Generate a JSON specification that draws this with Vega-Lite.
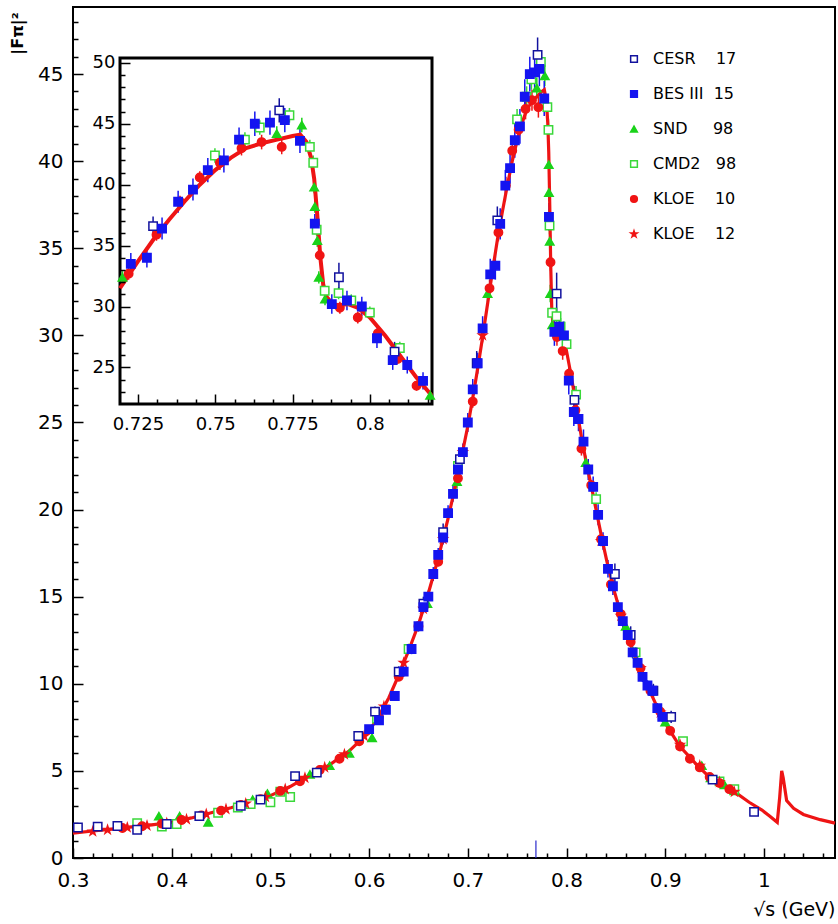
{
"$schema": "https://vega.github.io/schema/vega-lite/v6.json",
"width": 762, "height": 851,
"autosize": {"type": "none"},
"padding": {"left": 73, "top": 7, "right": 3, "bottom": 66},
"background": "white",
"config": {
 "view": {"stroke": "black", "strokeWidth": 2},
 "axis": {"labelFont": "DejaVu Sans", "titleFont": "DejaVu Sans", "labelColor": "black", "titleColor": "black", "tickColor": "black", "tickWidth": 1.5, "grid": false, "domain": false, "labelFlush": false, "labelOverlap": false},
 "legend": {"orient": "none", "legendX": 553, "legendY": 44, "direction": "vertical", "padding": 0, "labelFont": "DejaVu Sans", "labelFontSize": 16, "labelColor": "black", "symbolSize": 45, "symbolStrokeWidth": 1.5, "rowPadding": 19, "labelOffset": 11}
},
"datasets": {
 "pts": [
  {"s":"SND","x":0.387,"y":2.40,"e":0.15},{"s":"SND","x":0.408,"y":2.40,"e":0.15},{"s":"SND","x":0.437,"y":2.05,"e":0.15},{"s":"SND","x":0.482,"y":3.35,"e":0.15},{"s":"SND","x":0.497,"y":3.70,"e":0.15},{"s":"SND","x":0.540,"y":4.80,"e":0.15},{"s":"SND","x":0.560,"y":5.30,"e":0.15},{"s":"SND","x":0.580,"y":6.00,"e":0.2},{"s":"SND","x":0.603,"y":6.90,"e":0.2},{"s":"SND","x":0.659,"y":14.6,"e":0.3},{"s":"SND","x":0.689,"y":21.6,"e":0.4},{"s":"SND","x":0.7200,"y":32.4,"e":0.5},{"s":"SND","x":0.7699,"y":44.2,"e":0.6},{"s":"SND","x":0.7780,"y":44.9,"e":0.6},{"s":"SND","x":0.7820,"y":39.8,"e":0.5},{"s":"SND","x":0.7822,"y":38.2,"e":0.5},{"s":"SND","x":0.7830,"y":35.4,"e":0.5},{"s":"SND","x":0.7835,"y":32.4,"e":0.5},{"s":"SND","x":0.7855,"y":30.6,"e":0.5},{"s":"SND","x":0.8195,"y":22.7,"e":0.4},{"s":"SND","x":0.860,"y":13.3,"e":0.3},{"s":"SND","x":0.900,"y":7.8,"e":0.2},{"s":"SND","x":0.937,"y":5.3,"e":0.15},{"s":"SND","x":0.946,"y":4.6,"e":0.15},{"s":"SND","x":0.960,"y":4.2,"e":0.15},{"s":"SND","x":0.970,"y":3.85,"e":0.15},
  {"s":"CMD2","x":0.365,"y":2.00,"e":0.12},{"s":"CMD2","x":0.390,"y":1.80,"e":0.12},{"s":"CMD2","x":0.405,"y":1.95,"e":0.12},{"s":"CMD2","x":0.447,"y":2.60,"e":0.12},{"s":"CMD2","x":0.467,"y":2.90,"e":0.12},{"s":"CMD2","x":0.480,"y":3.10,"e":0.12},{"s":"CMD2","x":0.500,"y":3.20,"e":0.12},{"s":"CMD2","x":0.510,"y":3.80,"e":0.15},{"s":"CMD2","x":0.520,"y":3.50,"e":0.15},{"s":"CMD2","x":0.608,"y":8.00,"e":0.2},{"s":"CMD2","x":0.640,"y":12.0,"e":0.3},{"s":"CMD2","x":0.690,"y":22.5,"e":0.4},{"s":"CMD2","x":0.7499,"y":42.4,"e":0.6},{"s":"CMD2","x":0.7596,"y":43.7,"e":0.6},{"s":"CMD2","x":0.7644,"y":44.7,"e":0.6},{"s":"CMD2","x":0.7740,"y":45.7,"e":0.6},{"s":"CMD2","x":0.7806,"y":43.1,"e":0.6},{"s":"CMD2","x":0.7817,"y":41.8,"e":0.6},{"s":"CMD2","x":0.7828,"y":36.3,"e":0.5},{"s":"CMD2","x":0.7854,"y":31.3,"e":0.5},{"s":"CMD2","x":0.7899,"y":31.1,"e":0.5},{"s":"CMD2","x":0.7940,"y":30.5,"e":0.5},{"s":"CMD2","x":0.8000,"y":29.5,"e":0.5},{"s":"CMD2","x":0.8097,"y":26.6,"e":0.5},{"s":"CMD2","x":0.830,"y":20.6,"e":0.4},{"s":"CMD2","x":0.870,"y":11.8,"e":0.3},{"s":"CMD2","x":0.918,"y":6.7,"e":0.2},{"s":"CMD2","x":0.955,"y":4.4,"e":0.15},{"s":"CMD2","x":0.970,"y":3.95,"e":0.15},
  {"s":"KLOE 12","x":0.320,"y":1.52,"e":0.05},{"s":"KLOE 12","x":0.335,"y":1.62,"e":0.05},{"s":"KLOE 12","x":0.355,"y":1.75,"e":0.05},{"s":"KLOE 12","x":0.375,"y":1.86,"e":0.05},{"s":"KLOE 12","x":0.395,"y":2.00,"e":0.05},{"s":"KLOE 12","x":0.415,"y":2.22,"e":0.05},{"s":"KLOE 12","x":0.435,"y":2.52,"e":0.05},{"s":"KLOE 12","x":0.455,"y":2.80,"e":0.05},{"s":"KLOE 12","x":0.475,"y":3.12,"e":0.06},{"s":"KLOE 12","x":0.495,"y":3.50,"e":0.06},{"s":"KLOE 12","x":0.515,"y":3.95,"e":0.06},{"s":"KLOE 12","x":0.535,"y":4.60,"e":0.07},{"s":"KLOE 12","x":0.555,"y":5.20,"e":0.08},{"s":"KLOE 12","x":0.575,"y":5.95,"e":0.08},{"s":"KLOE 12","x":0.595,"y":7.00,"e":0.1},{"s":"KLOE 12","x":0.615,"y":8.70,"e":0.12},{"s":"KLOE 12","x":0.635,"y":11.2,"e":0.15},{"s":"KLOE 12","x":0.655,"y":14.3,"e":0.2},{"s":"KLOE 12","x":0.675,"y":18.3,"e":0.25},{"s":"KLOE 12","x":0.695,"y":23.3,"e":0.3},{"s":"KLOE 12","x":0.715,"y":30.0,"e":0.4},{"s":"KLOE 12","x":0.835,"y":18.2,"e":0.3},{"s":"KLOE 12","x":0.855,"y":13.9,"e":0.2},{"s":"KLOE 12","x":0.875,"y":10.9,"e":0.15},{"s":"KLOE 12","x":0.895,"y":8.35,"e":0.12},{"s":"KLOE 12","x":0.915,"y":6.5,"e":0.1},{"s":"KLOE 12","x":0.935,"y":5.3,"e":0.08},{"s":"KLOE 12","x":0.955,"y":4.35,"e":0.08},{"s":"KLOE 12","x":0.970,"y":3.8,"e":0.08},
  {"s":"KLOE 10","x":0.350,"y":1.72,"e":0.05},{"s":"KLOE 10","x":0.370,"y":1.82,"e":0.05},{"s":"KLOE 10","x":0.390,"y":1.97,"e":0.05},{"s":"KLOE 10","x":0.410,"y":2.18,"e":0.05},{"s":"KLOE 10","x":0.430,"y":2.45,"e":0.05},{"s":"KLOE 10","x":0.450,"y":2.72,"e":0.05},{"s":"KLOE 10","x":0.470,"y":3.05,"e":0.06},{"s":"KLOE 10","x":0.490,"y":3.38,"e":0.06},{"s":"KLOE 10","x":0.510,"y":3.85,"e":0.06},{"s":"KLOE 10","x":0.530,"y":4.40,"e":0.07},{"s":"KLOE 10","x":0.550,"y":5.05,"e":0.08},{"s":"KLOE 10","x":0.570,"y":5.70,"e":0.08},{"s":"KLOE 10","x":0.590,"y":6.70,"e":0.1},{"s":"KLOE 10","x":0.610,"y":8.10,"e":0.1},{"s":"KLOE 10","x":0.630,"y":10.4,"e":0.15},{"s":"KLOE 10","x":0.650,"y":13.3,"e":0.2},{"s":"KLOE 10","x":0.670,"y":17.0,"e":0.25},{"s":"KLOE 10","x":0.690,"y":21.8,"e":0.3},{"s":"KLOE 10","x":0.705,"y":26.2,"e":0.35},{"s":"KLOE 10","x":0.7220,"y":32.7,"e":0.5},{"s":"KLOE 10","x":0.7310,"y":35.9,"e":0.5},{"s":"KLOE 10","x":0.7386,"y":38.6,"e":0.5},{"s":"KLOE 10","x":0.7450,"y":40.6,"e":0.5},{"s":"KLOE 10","x":0.7515,"y":41.8,"e":0.6},{"s":"KLOE 10","x":0.7585,"y":43.0,"e":0.6},{"s":"KLOE 10","x":0.7650,"y":43.5,"e":0.6},{"s":"KLOE 10","x":0.7715,"y":43.1,"e":0.6},{"s":"KLOE 10","x":0.7838,"y":34.2,"e":0.5},{"s":"KLOE 10","x":0.7903,"y":29.9,"e":0.5},{"s":"KLOE 10","x":0.7961,"y":29.1,"e":0.5},{"s":"KLOE 10","x":0.8026,"y":27.8,"e":0.5},{"s":"KLOE 10","x":0.8090,"y":25.7,"e":0.4},{"s":"KLOE 10","x":0.8151,"y":23.5,"e":0.4},{"s":"KLOE 10","x":0.825,"y":21.4,"e":0.3},{"s":"KLOE 10","x":0.835,"y":18.3,"e":0.3},{"s":"KLOE 10","x":0.845,"y":15.7,"e":0.25},{"s":"KLOE 10","x":0.855,"y":14.0,"e":0.2},{"s":"KLOE 10","x":0.865,"y":12.4,"e":0.2},{"s":"KLOE 10","x":0.875,"y":10.9,"e":0.15},{"s":"KLOE 10","x":0.885,"y":9.6,"e":0.15},{"s":"KLOE 10","x":0.895,"y":8.4,"e":0.12},{"s":"KLOE 10","x":0.905,"y":7.3,"e":0.1},{"s":"KLOE 10","x":0.915,"y":6.4,"e":0.1},{"s":"KLOE 10","x":0.925,"y":5.7,"e":0.1},{"s":"KLOE 10","x":0.935,"y":5.2,"e":0.08},{"s":"KLOE 10","x":0.945,"y":4.65,"e":0.08},{"s":"KLOE 10","x":0.955,"y":4.3,"e":0.08},{"s":"KLOE 10","x":0.965,"y":3.95,"e":0.08},
  {"s":"CESR","x":0.305,"y":1.75,"e":0.12},{"s":"CESR","x":0.325,"y":1.80,"e":0.12},{"s":"CESR","x":0.345,"y":1.84,"e":0.12},{"s":"CESR","x":0.365,"y":1.62,"e":0.12},{"s":"CESR","x":0.395,"y":1.95,"e":0.12},{"s":"CESR","x":0.428,"y":2.40,"e":0.12},{"s":"CESR","x":0.470,"y":3.00,"e":0.15},{"s":"CESR","x":0.490,"y":3.35,"e":0.15},{"s":"CESR","x":0.525,"y":4.70,"e":0.2},{"s":"CESR","x":0.547,"y":4.90,"e":0.2},{"s":"CESR","x":0.589,"y":7.00,"e":0.25},{"s":"CESR","x":0.606,"y":8.40,"e":0.3},{"s":"CESR","x":0.630,"y":10.7,"e":0.3},{"s":"CESR","x":0.655,"y":14.6,"e":0.4},{"s":"CESR","x":0.675,"y":18.7,"e":0.5},{"s":"CESR","x":0.692,"y":22.9,"e":0.6},{"s":"CESR","x":0.709,"y":28.4,"e":0.7},{"s":"CESR","x":0.7299,"y":36.6,"e":0.8},{"s":"CESR","x":0.7707,"y":46.1,"e":1.0},{"s":"CESR","x":0.790,"y":32.4,"e":1.2},{"s":"CESR","x":0.808,"y":26.3,"e":0.8},{"s":"CESR","x":0.849,"y":16.3,"e":0.6},{"s":"CESR","x":0.865,"y":12.8,"e":0.5},{"s":"CESR","x":0.888,"y":9.6,"e":0.4},{"s":"CESR","x":0.906,"y":8.1,"e":0.35},{"s":"CESR","x":0.948,"y":4.5,"e":0.25},{"s":"CESR","x":0.990,"y":2.65,"e":0.2},
  {"s":"BES III","x":0.600,"y":7.4,"e":0.2},{"s":"BES III","x":0.610,"y":7.9,"e":0.2},{"s":"BES III","x":0.617,"y":8.5,"e":0.25},{"s":"BES III","x":0.626,"y":9.3,"e":0.25},{"s":"BES III","x":0.635,"y":10.7,"e":0.3},{"s":"BES III","x":0.643,"y":12.0,"e":0.3},{"s":"BES III","x":0.650,"y":13.3,"e":0.3},{"s":"BES III","x":0.655,"y":14.4,"e":0.35},{"s":"BES III","x":0.660,"y":15.0,"e":0.35},{"s":"BES III","x":0.665,"y":16.3,"e":0.4},{"s":"BES III","x":0.670,"y":17.4,"e":0.4},{"s":"BES III","x":0.675,"y":18.4,"e":0.4},{"s":"BES III","x":0.680,"y":19.8,"e":0.45},{"s":"BES III","x":0.685,"y":20.9,"e":0.45},{"s":"BES III","x":0.690,"y":22.3,"e":0.5},{"s":"BES III","x":0.695,"y":23.3,"e":0.5},{"s":"BES III","x":0.700,"y":25.0,"e":0.55},{"s":"BES III","x":0.705,"y":26.9,"e":0.6},{"s":"BES III","x":0.710,"y":28.4,"e":0.6},{"s":"BES III","x":0.715,"y":30.4,"e":0.7},{"s":"BES III","x":0.7227,"y":33.5,"e":0.9},{"s":"BES III","x":0.7279,"y":34.0,"e":0.8},{"s":"BES III","x":0.7328,"y":36.4,"e":0.9},{"s":"BES III","x":0.7380,"y":38.6,"e":0.9},{"s":"BES III","x":0.7428,"y":39.6,"e":0.9},{"s":"BES III","x":0.7476,"y":41.2,"e":1.0},{"s":"BES III","x":0.7528,"y":42.0,"e":1.0},{"s":"BES III","x":0.7577,"y":43.7,"e":1.0},{"s":"BES III","x":0.7628,"y":45.0,"e":1.0},{"s":"BES III","x":0.7677,"y":45.1,"e":1.0},{"s":"BES III","x":0.7725,"y":45.3,"e":1.0},{"s":"BES III","x":0.7774,"y":43.6,"e":1.0},{"s":"BES III","x":0.7822,"y":36.8,"e":0.8},{"s":"BES III","x":0.7877,"y":30.2,"e":0.8},{"s":"BES III","x":0.7926,"y":30.5,"e":0.8},{"s":"BES III","x":0.7974,"y":30.0,"e":0.8},{"s":"BES III","x":0.8023,"y":27.4,"e":0.8},{"s":"BES III","x":0.8074,"y":25.6,"e":0.8},{"s":"BES III","x":0.8121,"y":25.2,"e":0.7},{"s":"BES III","x":0.8172,"y":23.9,"e":0.7},{"s":"BES III","x":0.822,"y":22.3,"e":0.6},{"s":"BES III","x":0.827,"y":21.3,"e":0.6},{"s":"BES III","x":0.832,"y":19.7,"e":0.6},{"s":"BES III","x":0.837,"y":18.2,"e":0.5},{"s":"BES III","x":0.842,"y":16.6,"e":0.5},{"s":"BES III","x":0.847,"y":15.6,"e":0.5},{"s":"BES III","x":0.852,"y":14.4,"e":0.4},{"s":"BES III","x":0.857,"y":13.6,"e":0.4},{"s":"BES III","x":0.862,"y":12.8,"e":0.4},{"s":"BES III","x":0.867,"y":11.8,"e":0.35},{"s":"BES III","x":0.872,"y":11.2,"e":0.35},{"s":"BES III","x":0.877,"y":10.4,"e":0.3},{"s":"BES III","x":0.882,"y":9.9,"e":0.3},{"s":"BES III","x":0.887,"y":9.6,"e":0.3},{"s":"BES III","x":0.892,"y":8.6,"e":0.3},{"s":"BES III","x":0.897,"y":8.1,"e":0.3}
 ],
 "fit": [
  {"x":0.300,"y":1.43},{"x":0.320,"y":1.55},{"x":0.340,"y":1.66},{"x":0.360,"y":1.78},{"x":0.380,"y":1.90},{"x":0.400,"y":2.05},{"x":0.420,"y":2.30},{"x":0.440,"y":2.60},{"x":0.460,"y":2.88},{"x":0.480,"y":3.20},{"x":0.500,"y":3.58},{"x":0.520,"y":4.10},{"x":0.540,"y":4.75},{"x":0.560,"y":5.35},{"x":0.580,"y":6.15},{"x":0.590,"y":6.70},{"x":0.600,"y":7.30},{"x":0.610,"y":8.15},{"x":0.620,"y":9.20},{"x":0.630,"y":10.5},{"x":0.640,"y":11.9},{"x":0.650,"y":13.4},{"x":0.660,"y":15.2},{"x":0.670,"y":17.2},{"x":0.680,"y":19.5},{"x":0.690,"y":22.0},{"x":0.700,"y":24.8},{"x":0.705,"y":26.4},{"x":0.710,"y":28.1},{"x":0.715,"y":29.9},{"x":0.7192,"y":31.5},{"x":0.725,"y":33.7},{"x":0.730,"y":35.5},{"x":0.735,"y":37.1},{"x":0.740,"y":38.6},{"x":0.745,"y":40.0},{"x":0.750,"y":41.2},{"x":0.755,"y":42.2},{"x":0.760,"y":43.0},{"x":0.765,"y":43.4},{"x":0.770,"y":43.7},{"x":0.775,"y":44.0},{"x":0.7775,"y":44.1},{"x":0.7795,"y":43.5},{"x":0.781,"y":42.2},{"x":0.782,"y":40.5},{"x":0.783,"y":37.5},{"x":0.784,"y":34.0},{"x":0.785,"y":31.6},{"x":0.786,"y":30.8},{"x":0.788,"y":30.2},{"x":0.790,"y":30.1},{"x":0.793,"y":30.2},{"x":0.796,"y":29.9},{"x":0.800,"y":29.1},{"x":0.805,"y":27.6},{"x":0.810,"y":25.9},{"x":0.815,"y":24.2},{"x":0.820,"y":22.7},{"x":0.826,"y":21.1},{"x":0.831,"y":19.7},{"x":0.836,"y":18.3},{"x":0.841,"y":17.0},{"x":0.849,"y":15.2},{"x":0.856,"y":13.8},{"x":0.862,"y":12.7},{"x":0.871,"y":11.3},{"x":0.881,"y":10.0},{"x":0.892,"y":8.65},{"x":0.902,"y":7.55},{"x":0.915,"y":6.4},{"x":0.932,"y":5.35},{"x":0.948,"y":4.47},{"x":0.969,"y":3.85},{"x":0.985,"y":3.2},{"x":0.998,"y":2.75},{"x":1.006,"y":2.4},{"x":1.0135,"y":2.05},{"x":1.016,"y":3.5},{"x":1.018,"y":5.0},{"x":1.0195,"y":4.6},{"x":1.023,"y":3.3},{"x":1.030,"y":2.85},{"x":1.040,"y":2.5},{"x":1.057,"y":2.2},{"x":1.072,"y":2.0}
 ]
},
"layer": [
 {
  "layer": [
   {
    "data": {"name": "fit"},
    "mark": {"type": "point", "opacity": 0},
    "encoding": {
     "x": {"field": "x", "type": "quantitative", "scale": {"domain": [0.3, 1.072], "nice": false, "zero": false},
       "axis": {"orient": "bottom", "values": [0.32,0.34,0.36,0.38,0.42,0.44,0.46,0.48,0.52,0.54,0.56,0.58,0.62,0.64,0.66,0.68,0.72,0.74,0.76,0.78,0.82,0.84,0.86,0.88,0.92,0.94,0.96,0.98,1.02,1.04,1.06], "tickSize": -5, "labels": false, "title": null}},
     "y": {"field": "y", "type": "quantitative", "scale": {"domain": [0, 48.85], "nice": false, "zero": false},
       "axis": {"orient": "left", "values": [1,2,3,4,6,7,8,9,11,12,13,14,16,17,18,19,21,22,23,24,26,27,28,29,31,32,33,34,36,37,38,39,41,42,43,44,46,47,48], "tickSize": -5, "labels": false, "title": null}}
    }
   },
   {
    "data": {"name": "pts"},
    "mark": {"type": "errorbar", "thickness": 1.5},
    "encoding": {
     "x": {"field": "x", "type": "quantitative", "axis": null},
     "y": {"field": "y", "type": "quantitative", "axis": null},
     "yError": {"field": "e"},
     "color": {"field": "s", "type": "nominal", "legend": null, "scale": {"domain": ["KLOE 12","KLOE 10","CMD2","SND","BES III","CESR"], "range": ["#f01414","#f01414","#3ad83a","#1ad21a","#1414f0","#12129e"]}}
    }
   },
   {
    "data": {"name": "fit"},
    "mark": {"type": "line", "color": "#ee1414", "strokeWidth": 3.2},
    "encoding": {
     "x": {"field": "x", "type": "quantitative",
       "axis": {"orient": "bottom", "values": [0.3,0.4,0.5,0.6,0.7,0.8,0.9,1], "format": ".2~g", "tickSize": -10, "labelFontSize": 20, "labelPadding": 22, "labelBaseline": "top",
         "title": "√s (GeV)", "titleFontSize": 19, "titleFontWeight": "normal", "titleX": 762, "titleY": 57, "titleAlign": "right", "titleBaseline": "alphabetic", "titleAnchor": null}},
     "y": {"field": "y", "type": "quantitative",
       "axis": {"orient": "left", "values": [0,5,10,15,20,25,30,35,40,45], "tickSize": -10, "labelFontSize": 20, "labelPadding": 20,
         "title": "|Fπ|²", "titleFontSize": 16, "titleFontWeight": "bold", "titleAngle": 270, "titleX": -56, "titleY": 26, "titleAlign": "center", "titleBaseline": "middle", "titleAnchor": null}}
    }
   },
   {
    "data": {"name": "pts"},
    "mark": {"type": "point", "size": 70, "strokeWidth": 1.5, "opacity": 1, "fillOpacity": 1},
    "encoding": {
     "x": {"field": "x", "type": "quantitative", "axis": null},
     "y": {"field": "y", "type": "quantitative", "axis": null},
     "shape": {"field": "s", "type": "nominal", "scale": {"domain": ["CESR","BES III","SND","CMD2","KLOE 10","KLOE 12"], "range": ["square","square","triangle-up","square","circle","M0,-1L0.2245,-0.309L0.9511,-0.309L0.3633,0.118L0.5878,0.809L0,0.382L-0.5878,0.809L-0.3633,0.118L-0.9511,-0.309L-0.2245,-0.309Z"]},
       "legend": {"title": null, "labelExpr": "datum.label == 'CESR' ? 'CESR\u00a0\u00a0\u00a0\u00a017' : datum.label == 'BES III' ? 'BES III\u00a0\u00a015' : datum.label == 'SND' ? 'SND\u00a0\u00a0\u00a0\u00a0\u00a098' : datum.label == 'CMD2' ? 'CMD2\u00a0\u00a0\u00a098' : datum.label == 'KLOE 10' ? 'KLOE\u00a0\u00a0\u00a0\u00a010' : 'KLOE\u00a0\u00a0\u00a0\u00a012'"}},
     "fill": {"field": "s", "type": "nominal", "scale": {"domain": ["CESR","BES III","SND","CMD2","KLOE 10","KLOE 12"], "range": ["white","#1414f0","#1ad21a","white","#f01414","#f01414"]},
       "legend": {"title": null, "labelExpr": "datum.label == 'CESR' ? 'CESR\u00a0\u00a0\u00a0\u00a017' : datum.label == 'BES III' ? 'BES III\u00a0\u00a015' : datum.label == 'SND' ? 'SND\u00a0\u00a0\u00a0\u00a0\u00a098' : datum.label == 'CMD2' ? 'CMD2\u00a0\u00a0\u00a098' : datum.label == 'KLOE 10' ? 'KLOE\u00a0\u00a0\u00a0\u00a010' : 'KLOE\u00a0\u00a0\u00a0\u00a012'"}},
     "stroke": {"field": "s", "type": "nominal", "scale": {"domain": ["CESR","BES III","SND","CMD2","KLOE 10","KLOE 12"], "range": ["#12129e","#1414f0","#1ad21a","#3ad83a","#f01414","#f01414"]},
       "legend": {"title": null, "labelExpr": "datum.label == 'CESR' ? 'CESR\u00a0\u00a0\u00a0\u00a017' : datum.label == 'BES III' ? 'BES III\u00a0\u00a015' : datum.label == 'SND' ? 'SND\u00a0\u00a0\u00a0\u00a0\u00a098' : datum.label == 'CMD2' ? 'CMD2\u00a0\u00a0\u00a098' : datum.label == 'KLOE 10' ? 'KLOE\u00a0\u00a0\u00a0\u00a010' : 'KLOE\u00a0\u00a0\u00a0\u00a012'"}}
    }
   },
   {
    "data": {"values": [{}]},
    "mark": {"type": "rule", "color": "#2a2acc", "strokeWidth": 1.2},
    "encoding": {
     "x": {"datum": 0.769, "type": "quantitative", "axis": null},
     "y": {"datum": 0, "type": "quantitative", "axis": null},
     "y2": {"datum": 1.0}
    }
   }
  ],
  "resolve": {"axis": {"x": "independent", "y": "independent"}}
 },
 {
  "layer": [
   {
    "data": {"values": [{}]},
    "mark": {"type": "rect", "fill": "white", "stroke": "black", "strokeWidth": 3},
    "encoding": {
     "x": {"datum": 0.7192, "type": "quantitative", "scale": {"domain": [0.7192, 0.8201], "range": [47, 359], "nice": false, "zero": false}, "axis": null},
     "x2": {"datum": 0.8201},
     "y": {"datum": 22, "type": "quantitative", "scale": {"domain": [22, 50.4], "range": [397, 51], "nice": false, "zero": false}, "axis": null},
     "y2": {"datum": 50.4}
    }
   },
   {
    "data": {"name": "fit"},
    "transform": [{"filter": "datum.x >= 0.7192 && datum.x <= 0.8201"}],
    "mark": {"type": "point", "opacity": 0},
    "encoding": {
     "x": {"field": "x", "type": "quantitative", "scale": {"domain": [0.7192, 0.8201], "range": [47, 359], "nice": false, "zero": false},
       "axis": {"orient": "bottom", "offset": -454, "zindex": 1, "values": [0.73125,0.7375,0.74375,0.75625,0.7625,0.76875,0.78125,0.7875,0.79375,0.80625,0.8125,0.81875], "tickSize": -5, "labels": false, "title": null}},
     "y": {"field": "y", "type": "quantitative", "scale": {"domain": [22, 50.4], "range": [397, 51], "nice": false, "zero": false},
       "axis": {"orient": "left", "offset": -47, "zindex": 1, "values": [23,24,26,27,28,29,31,32,33,34,36,37,38,39,41,42,43,44,46,47,48,49], "tickSize": -5, "labels": false, "title": null}}
    }
   },
   {
    "data": {"name": "pts"},
    "transform": [{"filter": "datum.x >= 0.7192 && datum.x <= 0.8201"}],
    "mark": {"type": "errorbar", "thickness": 1.5},
    "encoding": {
     "x": {"field": "x", "type": "quantitative", "axis": null},
     "y": {"field": "y", "type": "quantitative", "axis": null},
     "yError": {"field": "e"},
     "color": {"field": "s", "type": "nominal", "legend": null, "scale": {"domain": ["KLOE 12","KLOE 10","CMD2","SND","BES III","CESR"], "range": ["#f01414","#f01414","#3ad83a","#1ad21a","#1414f0","#12129e"]}}
    }
   },
   {
    "data": {"name": "fit"},
    "transform": [{"filter": "datum.x >= 0.7192 && datum.x <= 0.8201"}],
    "mark": {"type": "line", "color": "#ee1414", "strokeWidth": 4},
    "encoding": {
     "x": {"field": "x", "type": "quantitative",
       "axis": {"orient": "bottom", "offset": -454, "zindex": 1, "values": [0.725,0.75,0.775,0.8], "format": ".3~g", "tickSize": -10, "labelFontSize": 18, "labelPadding": 21, "labelBaseline": "top", "title": null}},
     "y": {"field": "y", "type": "quantitative",
       "axis": {"orient": "left", "offset": -47, "zindex": 1, "values": [25,30,35,40,45,50], "tickSize": -10, "labelFontSize": 18, "labelPadding": 15, "title": null}}
    }
   },
   {
    "data": {"name": "pts"},
    "transform": [{"filter": "datum.x >= 0.7192 && datum.x <= 0.8201"}],
    "mark": {"type": "point", "size": 70, "strokeWidth": 1.5, "opacity": 1, "fillOpacity": 1},
    "encoding": {
     "x": {"field": "x", "type": "quantitative", "axis": null},
     "y": {"field": "y", "type": "quantitative", "axis": null},
     "shape": {"field": "s", "type": "nominal", "scale": {"domain": ["CESR","BES III","SND","CMD2","KLOE 10","KLOE 12"], "range": ["square","square","triangle-up","square","circle","M0,-1L0.2245,-0.309L0.9511,-0.309L0.3633,0.118L0.5878,0.809L0,0.382L-0.5878,0.809L-0.3633,0.118L-0.9511,-0.309L-0.2245,-0.309Z"]},
       "legend": {"title": null, "labelExpr": "datum.label == 'CESR' ? 'CESR\u00a0\u00a0\u00a0\u00a017' : datum.label == 'BES III' ? 'BES III\u00a0\u00a015' : datum.label == 'SND' ? 'SND\u00a0\u00a0\u00a0\u00a0\u00a098' : datum.label == 'CMD2' ? 'CMD2\u00a0\u00a0\u00a098' : datum.label == 'KLOE 10' ? 'KLOE\u00a0\u00a0\u00a0\u00a010' : 'KLOE\u00a0\u00a0\u00a0\u00a012'"}},
     "fill": {"field": "s", "type": "nominal", "scale": {"domain": ["CESR","BES III","SND","CMD2","KLOE 10","KLOE 12"], "range": ["white","#1414f0","#1ad21a","white","#f01414","#f01414"]},
       "legend": {"title": null, "labelExpr": "datum.label == 'CESR' ? 'CESR\u00a0\u00a0\u00a0\u00a017' : datum.label == 'BES III' ? 'BES III\u00a0\u00a015' : datum.label == 'SND' ? 'SND\u00a0\u00a0\u00a0\u00a0\u00a098' : datum.label == 'CMD2' ? 'CMD2\u00a0\u00a0\u00a098' : datum.label == 'KLOE 10' ? 'KLOE\u00a0\u00a0\u00a0\u00a010' : 'KLOE\u00a0\u00a0\u00a0\u00a012'"}},
     "stroke": {"field": "s", "type": "nominal", "scale": {"domain": ["CESR","BES III","SND","CMD2","KLOE 10","KLOE 12"], "range": ["#12129e","#1414f0","#1ad21a","#3ad83a","#f01414","#f01414"]},
       "legend": {"title": null, "labelExpr": "datum.label == 'CESR' ? 'CESR\u00a0\u00a0\u00a0\u00a017' : datum.label == 'BES III' ? 'BES III\u00a0\u00a015' : datum.label == 'SND' ? 'SND\u00a0\u00a0\u00a0\u00a0\u00a098' : datum.label == 'CMD2' ? 'CMD2\u00a0\u00a0\u00a098' : datum.label == 'KLOE 10' ? 'KLOE\u00a0\u00a0\u00a0\u00a010' : 'KLOE\u00a0\u00a0\u00a0\u00a012'"}}
    }
   }
  ],
  "resolve": {"axis": {"x": "independent", "y": "independent"}}
 }
],
"resolve": {"scale": {"x": "independent", "y": "independent"}}
}
